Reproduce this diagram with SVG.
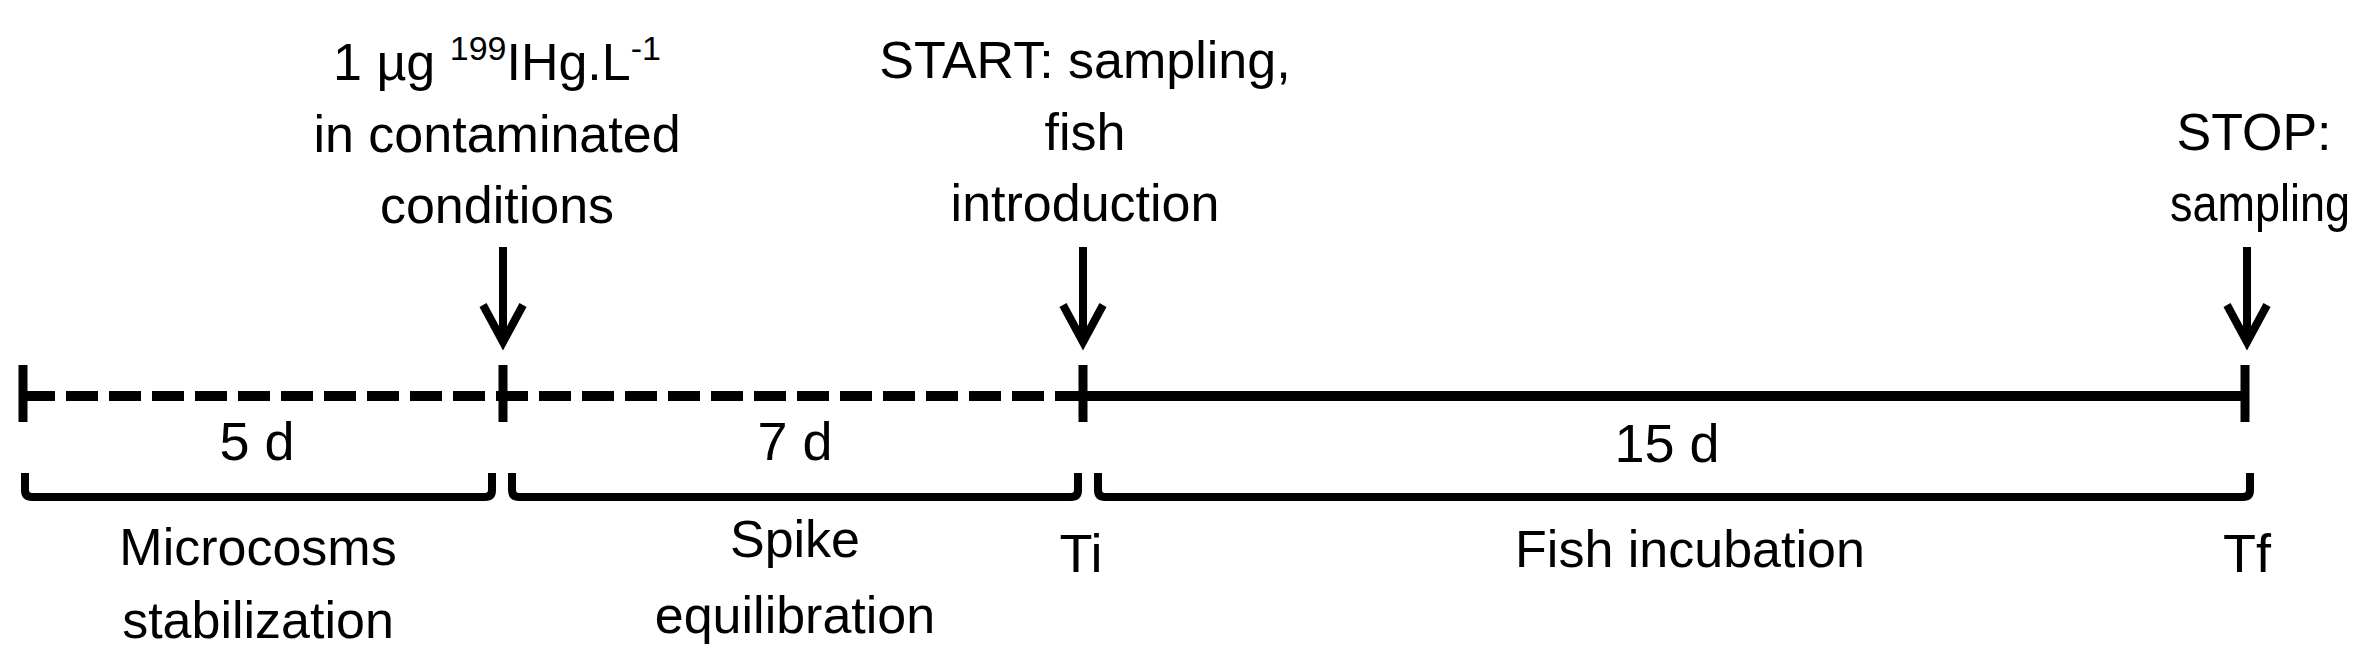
<svg xmlns="http://www.w3.org/2000/svg" width="2376" height="664" viewBox="0 0 2376 664">
<defs>
<style>
.t{font-family:"Liberation Sans",Arial,sans-serif;font-size:52px;fill:#000;text-anchor:middle}
.d{font-family:"Liberation Sans",Arial,sans-serif;font-size:54px;fill:#000;text-anchor:middle}
.ln{stroke:#000;stroke-width:10;fill:none}
.tk{stroke:#000;stroke-width:9;fill:none}
.br{stroke:#000;stroke-width:8;fill:none;stroke-linejoin:round}
.ar{stroke:#000;stroke-width:8;fill:none}
</style>
</defs>
<rect width="2376" height="664" fill="#fff"/>
<g id="connectors">
<line class="ln" x1="23" y1="396" x2="1083" y2="396" stroke-dasharray="32 11"/>
<line class="ln" x1="1083" y1="396" x2="2245" y2="396"/>
<line class="tk" x1="23" y1="365" x2="23" y2="422"/>
<line class="tk" x1="503" y1="365" x2="503" y2="422"/>
<line class="tk" x1="1083" y1="365" x2="1083" y2="422"/>
<line class="tk" x1="2245" y1="365" x2="2245" y2="422"/>
<path class="br" d="M25 473 V490 Q25 497 32 497 H485 Q492 497 492 490 V473"/>
<path class="br" d="M512 473 V490 Q512 497 519 497 H1071 Q1078 497 1078 490 V473"/>
<path class="br" d="M1098 473 V490 Q1098 497 1105 497 H2243 Q2250 497 2250 490 V473"/>
<g id="arrow1"><line class="ar" x1="503" y1="247" x2="503" y2="336"/><path class="ar" d="M483 305 L503 342 L523 305"/></g>
<g id="arrow2"><line class="ar" x1="1083" y1="247" x2="1083" y2="336"/><path class="ar" d="M1063 305 L1083 342 L1103 305"/></g>
<g id="arrow3"><line class="ar" x1="2247" y1="247" x2="2247" y2="336"/><path class="ar" d="M2227 305 L2247 342 L2267 305"/></g>
</g>
<g id="spike-label">
<text class="t" x="497" y="80">1 µg <tspan font-size="34" dy="-20">199</tspan><tspan dy="20">IHg.L</tspan><tspan font-size="34" dy="-20">-1</tspan></text>
<text class="t" x="497" y="152">in contaminated</text>
<text class="t" x="497" y="223">conditions</text>
</g>
<g id="start-label">
<text class="t" x="1085" y="78">START: sampling,</text>
<text class="t" x="1085" y="150">fish</text>
<text class="t" x="1085" y="221">introduction</text>
</g>
<g id="stop-label">
<text class="t" x="2254" y="150">STOP:</text>
<text class="t" x="2260" y="221" textLength="180" lengthAdjust="spacingAndGlyphs">sampling</text>
</g>
<g id="period1">
<text class="d" x="257" y="460">5 d</text>
<text class="t" x="258" y="565">Microcosms</text>
<text class="t" x="258" y="638">stabilization</text>
</g>
<g id="period2">
<text class="d" x="795" y="460">7 d</text>
<text class="t" x="795" y="557">Spike</text>
<text class="t" x="795" y="633">equilibration</text>
</g>
<g id="period3">
<text class="d" x="1667" y="462">15 d</text>
<text class="t" x="1690" y="567">Fish incubation</text>
</g>
<g id="ti"><text class="d" x="1081" y="572">Ti</text></g>
<g id="tf"><text class="d" x="2247" y="572">Tf</text></g>
</svg>
